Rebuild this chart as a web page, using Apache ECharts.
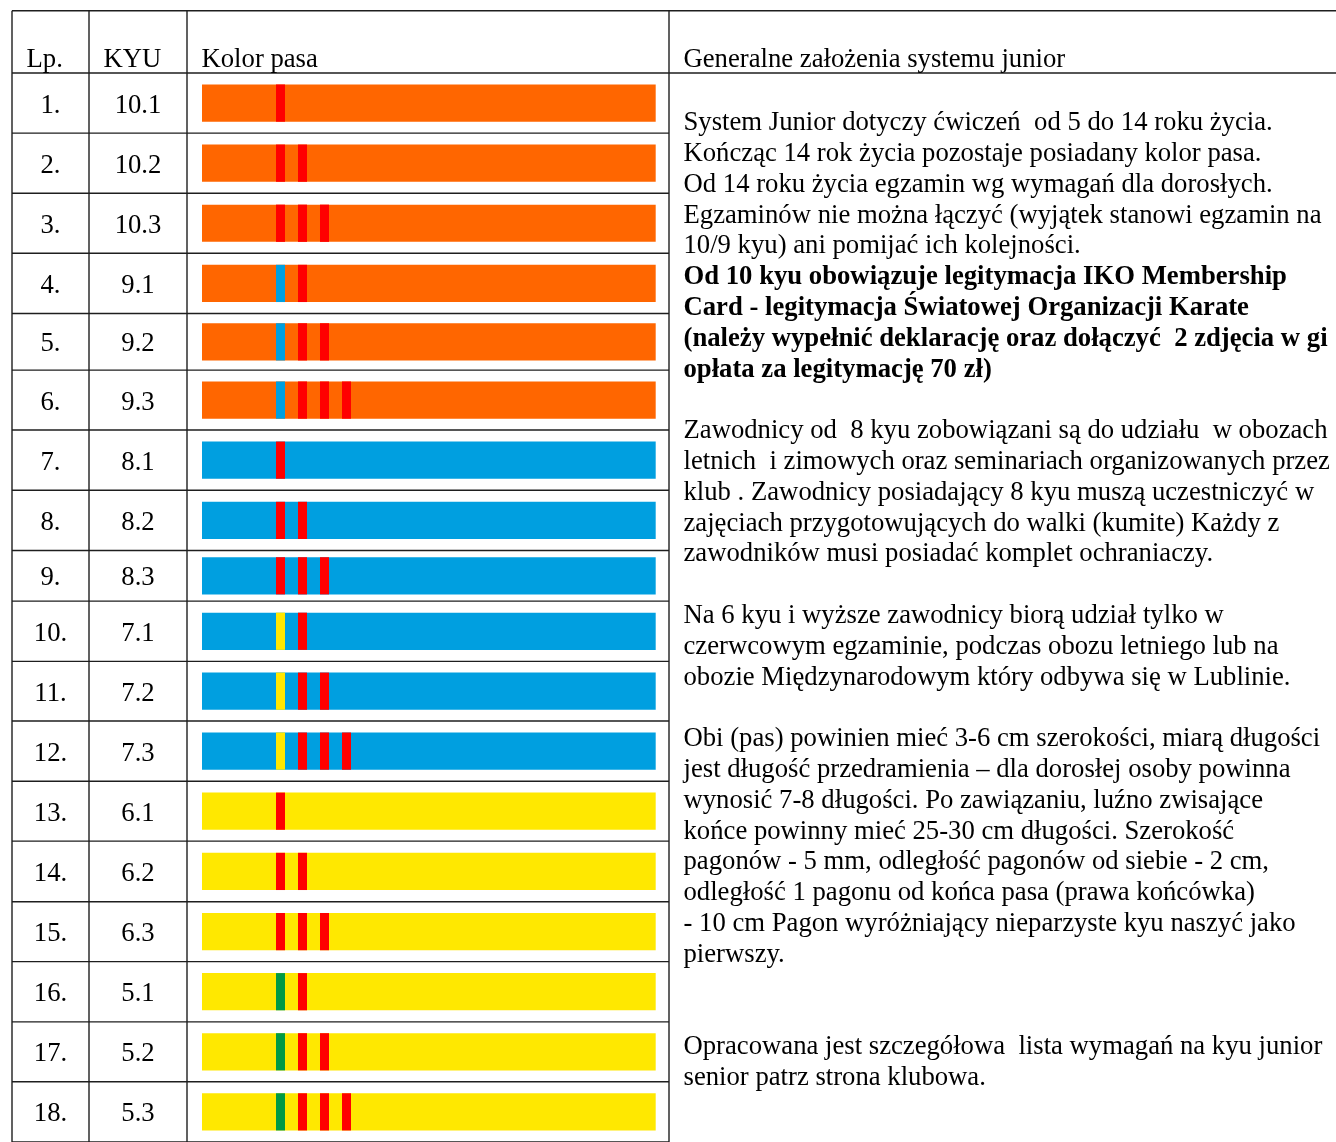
<!DOCTYPE html>
<html>
<head>
<meta charset="utf-8">
<script src="https://cdn.jsdelivr.net/npm/echarts@6/dist/echarts.min.js"></script>
<style>html,body{margin:0;padding:0;background:#fff}#c{width:1336px;height:1142px}</style>
</head>
<body>
<div id="c"></div>
<script>
// ---------- data ----------
const HEADERS = ['Lp.', 'KYU', 'Kolor pasa', 'Generalne założenia systemu junior'];
const LP = ['1.','2.','3.','4.','5.','6.','7.','8.','9.','10.','11.','12.','13.','14.','15.','16.','17.','18.'];
const KYU = ['10.1','10.2','10.3','9.1','9.2','9.3','8.1','8.2','8.3','7.1','7.2','7.3','6.1','6.2','6.3','5.1','5.2','5.3'];
const BELT = ['orange','orange','orange','orange','orange','orange',
              'blue','blue','blue','blue','blue','blue',
              'yellow','yellow','yellow','yellow','yellow','yellow'];
const STRIPES = [
  ['red'], ['red','red'], ['red','red','red'],
  ['blue','red'], ['blue','red','red'], ['blue','red','red','red'],
  ['red'], ['red','red'], ['red','red','red'],
  ['yellow','red'], ['yellow','red','red'], ['yellow','red','red','red'],
  ['red'], ['red','red'], ['red','red','red'],
  ['green','red'], ['green','red','red'], ['green','red','red','red']
];
const NOTE_LINES = [
  'System Junior dotyczy ćwiczeń  od 5 do 14 roku życia.',
  'Kończąc 14 rok życia pozostaje posiadany kolor pasa.',
  'Od 14 roku życia egzamin wg wymagań dla dorosłych.',
  'Egzaminów nie można łączyć (wyjątek stanowi egzamin na',
  '10/9 kyu) ani pomijać ich kolejności.',
  '**Od 10 kyu obowiązuje legitymacja IKO Membership',
  '**Card - legitymacja Światowej Organizacji Karate',
  '**(należy wypełnić deklarację oraz dołączyć  2 zdjęcia w gi',
  '**opłata za legitymację 70 zł)',
  '',
  'Zawodnicy od  8 kyu zobowiązani są do udziału  w obozach',
  'letnich  i zimowych oraz seminariach organizowanych przez',
  'klub . Zawodnicy posiadający 8 kyu muszą uczestniczyć w',
  'zajęciach przygotowujących do walki (kumite) Każdy z',
  'zawodników musi posiadać komplet ochraniaczy.',
  '',
  'Na 6 kyu i wyższe zawodnicy biorą udział tylko w',
  'czerwcowym egzaminie, podczas obozu letniego lub na',
  'obozie Międzynarodowym który odbywa się w Lublinie.',
  '',
  'Obi (pas) powinien mieć 3-6 cm szerokości, miarą długości',
  'jest długość przedramienia – dla dorosłej osoby powinna',
  'wynosić 7-8 długości. Po zawiązaniu, luźno zwisające',
  'końce powinny mieć 25-30 cm długości. Szerokość',
  'pagonów - 5 mm, odległość pagonów od siebie - 2 cm,',
  'odległość 1 pagonu od końca pasa (prawa końcówka)',
  '- 10 cm Pagon wyróżniający nieparzyste kyu naszyć jako',
  'pierwszy.',
  '',
  '',
  'Opracowana jest szczegółowa  lista wymagań na kyu junior',
  'senior patrz strona klubowa.'
];

// ---------- layout & style ----------
const COLORS = {orange:'#FF6600', red:'#FF0000', blue:'#009FE0', yellow:'#FFE800', green:'#009A44'};
const FONT_FAMILY = '"Liberation Serif", "Times New Roman", serif';
const FS = 26.7;
const TABLE_W = 1324;
const COL_X = [0, 77, 175, 657];
const HEADER_H = 62.8;
const ROW_H = [60.5,60.5,60.5,60.7,57,60.3,60.7,60.6,51,60.7,60,60.7,60.3,61,60.3,60.7,60.3,60.7];
const CUM = [0]; ROW_H.forEach((h,i)=>CUM.push(CUM[i]+h));
const TOTAL = HEADER_H + CUM[CUM.length-1];
const BELT_X0 = 190, BELT_X1 = 643.7, BELT_H = 37.5;
const STRIPE_X0 = 264, STRIPE_GAP = 22, STRIPE_W = 9;
const PAD = 14.5;
const LINE_COLOR = '#1e1e1e', LINE_W = 1.4;
const NOTE_LH = 30.8, NOTE_TOP = 97.8;

function tableRender(params, api) {
  const ch = [];
  const line = (x1,y1,x2,y2) => {
    const a = api.coord([x1,y1]), b = api.coord([x2,y2]);
    ch.push({type:'line', shape:{x1:a[0],y1:a[1],x2:b[0],y2:b[1]}, style:{stroke:LINE_COLOR, lineWidth:LINE_W}});
  };
  line(0, 0, TABLE_W, 0);
  line(0, HEADER_H, TABLE_W, HEADER_H);
  for (let i = 1; i < CUM.length; i++) line(0, HEADER_H + CUM[i], COL_X[3], HEADER_H + CUM[i]);
  COL_X.forEach(x => line(x, 0, x, TOTAL));
  HEADERS.forEach((t, k) => {
    const p = api.coord([COL_X[k] + PAD, HEADER_H - 13.2]);
    ch.push({type:'text', style:{text:t, x:p[0], y:p[1], align:'left', verticalAlign:'middle',
      font: FS + 'px ' + FONT_FAMILY, fill:'#000'}});
  });
  const txt = NOTE_LINES.map(l => l.startsWith('**') ? '{b|' + l.slice(2) + '}' : (l ? '{n|' + l + '}' : '{n| }')).join('\n');
  const p = api.coord([COL_X[3] + PAD, NOTE_TOP]);
  ch.push({type:'text', style:{text:txt, x:p[0], y:p[1], align:'left', verticalAlign:'top',
    font: FS + 'px ' + FONT_FAMILY, lineHeight: NOTE_LH, fill:'#000',
    rich:{
      n:{fontFamily:FONT_FAMILY, fontSize:FS, lineHeight:NOTE_LH, fill:'#000'},
      b:{fontFamily:FONT_FAMILY, fontSize:FS, fontWeight:'bold', lineHeight:NOTE_LH, fill:'#000'}
    }}});
  return {type:'group', children: ch};
}

function rowRender(params, api) {
  const i = api.value(0);
  const y0 = HEADER_H + CUM[i], h = ROW_H[i], yc = y0 + h / 2;
  const ch = [];
  const rect = (x0, x1, color) => {
    const a = api.coord([x0, yc - BELT_H/2]), b = api.coord([x1, yc + BELT_H/2]);
    ch.push({type:'rect', shape:{x:a[0], y:a[1], width:b[0]-a[0], height:b[1]-a[1]}, style:{fill:color}});
  };
  rect(BELT_X0, BELT_X1, COLORS[BELT[i]]);
  STRIPES[i].forEach((c, k) => {
    const sx = STRIPE_X0 + k * STRIPE_GAP;
    rect(sx, sx + STRIPE_W, COLORS[c]);
  });
  const t1 = api.coord([(COL_X[0] + COL_X[1]) / 2, yc + 2.5]);
  const t2 = api.coord([(COL_X[1] + COL_X[2]) / 2, yc + 2.5]);
  ch.push({type:'text', style:{text:LP[i], x:t1[0], y:t1[1], align:'center', verticalAlign:'middle', font: FS + 'px ' + FONT_FAMILY, fill:'#000'}});
  ch.push({type:'text', style:{text:KYU[i], x:t2[0], y:t2[1], align:'center', verticalAlign:'middle', font: FS + 'px ' + FONT_FAMILY, fill:'#000'}});
  return {type:'group', children: ch};
}

const chart = echarts.init(document.getElementById('c'), null, {renderer:'canvas'});
chart.setOption({
  animation: false,
  backgroundColor: '#fff',
  grid: {left: 12, top: 10.7, width: TABLE_W, height: TOTAL},
  xAxis: {type:'value', min:0, max:TABLE_W, show:false},
  yAxis: {type:'value', min:0, max:TOTAL, inverse:true, show:false},
  series: [
    {type:'custom', name:'belts', renderItem: rowRender, data: LP.map((_, i) => [i, i]), encode:{x:0, y:1}, clip:false, silent:true, z:2},
    {type:'custom', name:'table', renderItem: tableRender, data: [[0, 0]], encode:{x:0, y:1}, clip:false, silent:true, z:3}
  ]
});
</script>
</body>
</html>
